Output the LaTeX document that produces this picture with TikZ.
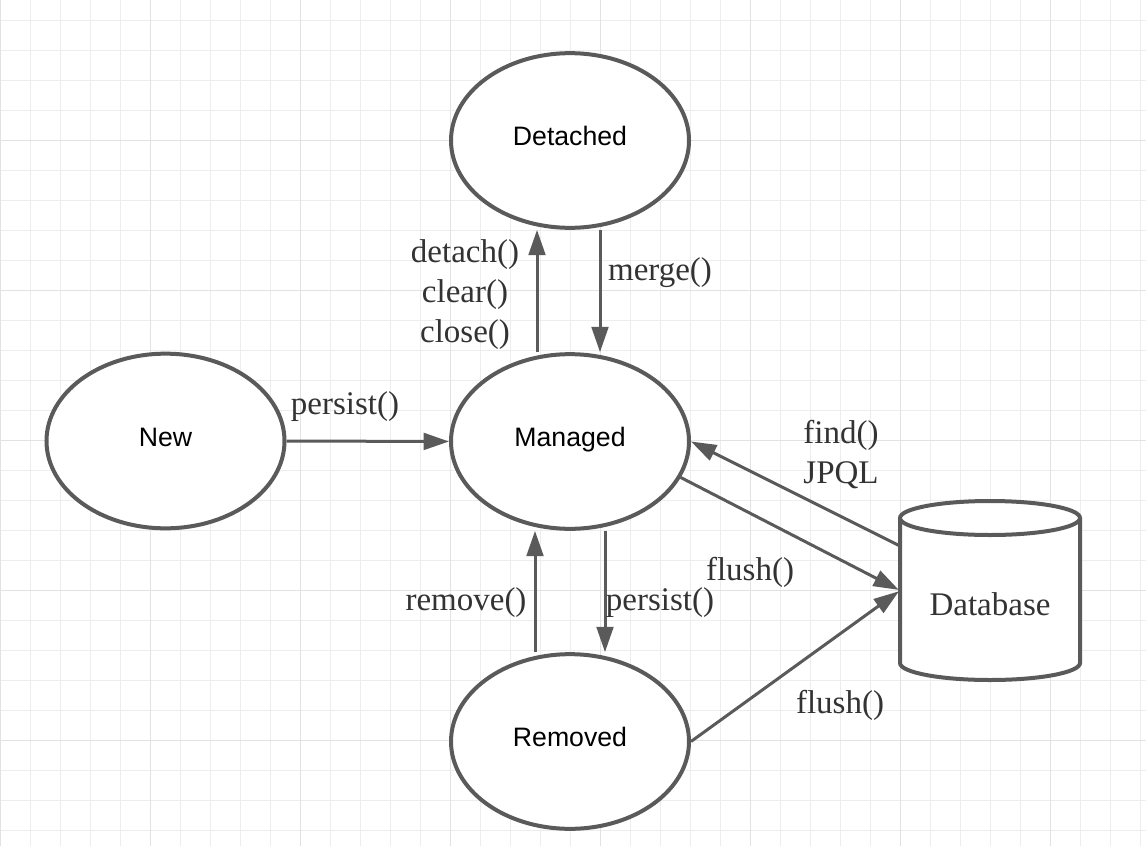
\documentclass[tikz,border=0pt]{standalone}
\usepackage{fontspec}
\setmainfont{Liberation Serif}
\newfontfamily\sansf{Liberation Sans}
\usetikzlibrary{arrows.meta,shapes.geometric}
\definecolor{edge}{HTML}{5A5A5A}
\definecolor{txt}{HTML}{333333}
\definecolor{gridminor}{HTML}{EDEDED}
\definecolor{gridmajor}{HTML}{E2E2E2}
\begin{document}
\begin{tikzpicture}[x=0.75pt,y=-0.75pt,
  state/.style={ellipse, draw=edge, line width=3pt, fill=white,
    minimum width=178.5pt, minimum height=131pt, inner sep=0pt,
    font=\sansf\fontsize{20}{24}\selectfont, text=black,
    text height=9.5pt, text depth=2pt},
  lbl/.style={font=\fontsize{24.75}{30}\selectfont, text=txt, inner sep=0pt,
    anchor=base, align=center},
  arr/.style={draw=edge, line width=2.25pt, -{Triangle[length=19pt,width=12.5pt]}},
  gminor/.style={draw=gridminor, line width=0.75pt},
  gmajor/.style={draw=gridmajor, line width=1pt},
  dbline/.style={draw=edge, line width=3pt, fill=white},
]
\useasboundingbox (0,0) rectangle (1146,846);
\fill[white] (0,0) rectangle (1146,846);
% grid
\foreach \i in {1,...,38} {
  \pgfmathtruncatemacro{\r}{mod(\i,5)}
  \ifnum\r=0 \else \draw[gminor] (30*\i,0) -- (30*\i,846); \fi
}
\foreach \y in {20.5,50.5,...,846} \draw[gminor] (0,\y) -- (1146,\y);
\foreach \x in {0.7,150.5,300.5,450.5,600.5,750.5,900.5,1050.5} \draw[gmajor] (\x,0) -- (\x,846);
\foreach \y in {140.5,290.5,440.5,590.5,740.5} \draw[gmajor] (0,\y) -- (1146,\y);

% states
\node[state] (det) at (570,140.5) {Detached};
\node[state] (new) at (165.5,441) {New};
\node[state] (man) at (570,441.5) {Managed};
\node[state] (rem) at (570,741.5) {Removed};

% database cylinder
\node[inner sep=0pt, outer sep=0pt, minimum width=135pt, minimum height=108.75pt] (db) at (990,590.5) {};
\draw[dbline] (db.north west) -- (db.south west)
  arc[start angle=180, end angle=360, x radius=67.5pt, y radius=12.75pt]
  -- (db.north east);
\draw[dbline] (db.north) ellipse[x radius=67.5pt, y radius=12.75pt];
\node[lbl] (dbl) at (990,615) {Database};

% connectors
\draw[arr] (new.east) -- (man.west);
\draw[arr] ([xshift=-24.75pt]man.north) -- ([xshift=-24.75pt]det.south);
\draw[arr] ([xshift=22.5pt]det.south) -- ([xshift=22.5pt]man.north);
\draw[arr] ([xshift=-26.25pt]rem.north) -- ([xshift=-26.25pt]man.south);
\draw[arr] ([xshift=26.25pt]man.south) -- ([xshift=26.25pt]rem.north);
\draw[arr, shorten >=1pt] (man.-18) -- (db.west);
\draw[arr] ([yshift=33.4pt]db.west) -- (man.east);
\draw[arr, shorten >=1pt] (rem.east) -- (db.west);

% labels
\node[lbl] (l1) at (345,414) {persist()};
\node[lbl] (l2) at (465,342) {detach()\\clear()\\close()};
\node[lbl] (l3) at (660,280) {merge()};
\node[lbl] (l4) at (466,610) {remove()};
\node[lbl] (l5) at (660,610) {persist()};
\node[lbl] (l6) at (750,580) {flush()};
\node[lbl] (l7) at (840,713) {flush()};
\node[lbl] (l8) at (841,483) {find()\\JPQL};
\end{tikzpicture}
\end{document}
